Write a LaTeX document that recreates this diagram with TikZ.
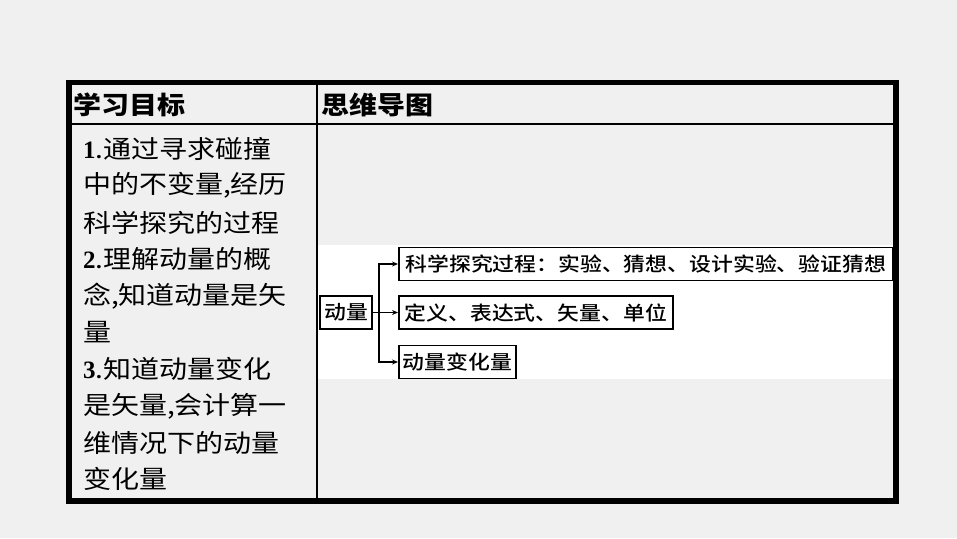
\documentclass[tikz,border=0pt]{standalone}
\usepackage{fontspec}
\usetikzlibrary{arrows.meta}
\setmainfont[FakeStretch=1.12]{Noto Sans CJK SC}
\newfontfamily\cajafont[FakeStretch=1.12]{Noto Sans CJK SC Medium}
\newfontfamily\numfont{Liberation Serif}
\definecolor{fondo}{HTML}{F0F0F0}
\newcommand{\goalnum}[1]{{\numfont\bfseries #1}.}
\tikzset{
  caja/.style={draw, line width=1.6pt, fill=white, font=\cajafont\fontsize{19.5}{22}\selectfont,
    inner xsep=4pt, inner ysep=0pt, minimum height=33pt},
  flecha/.style={line width=1.5pt, -{Stealth[length=6pt, width=5pt]}},
  meta/.style={anchor=west, inner sep=0pt, font=\fontsize{25}{30}\selectfont}
}
\begin{document}
\begin{tikzpicture}[x=1pt, y=-1pt]
  % el fondo y la tabla
  \fill[fondo] (0,0) rectangle (957,538);
  \fill[white] (318,245) rectangle (893,379);
  \draw[line width=2pt] (69,124) -- (896,124);
  \draw[line width=2pt] (317,82.5) -- (317,501);
  \draw[line width=5.5pt] (69,82.5) rectangle (896,501);
  % los títulos
  \node[meta, font=\bfseries\fontsize{25}{30}\selectfont] (titmeta) at (73,105) {学习目标};
  \node[meta, font=\bfseries\fontsize{25}{30}\selectfont] (titmapa) at (321,105) {思维导图};
  % las metas, una línea por nodo
  \foreach \linea [count=\i] in {{\goalnum{1}通过寻求碰撞}, {中的不变量,经历}, {科学探究的过程},
      {\goalnum{2}理解动量的概}, {念,知道动量是矢}, {量}, {\goalnum{3}知道动量变化},
      {是矢量,会计算一}, {维情况下的动量}, {变化量}} {
    \node[meta] (meta\i) at (83,{149+36.7*(\i-1)}) {\linea};
  }
  % el mapa
  \node[caja, minimum width=52pt, inner xsep=0pt] (momento) at (346,312.5) {动量};
  \node[caja, anchor=west, minimum width=494pt] (proceso) at (398,264) {科学探究过程：实验、猜想、设计实验、验证猜想};
  \node[caja, anchor=west, minimum width=274pt] (definicion) at (398,312.5) {定义、表达式、矢量、单位};
  \node[caja, anchor=west] (cambio) at (398,362) {动量变化量};
  \coordinate (rama) at (379,312.5);
  \draw[line width=1.5pt] (momento.east) -- (rama);
  \draw[flecha] (rama) |- (proceso.west);
  \draw[flecha] (rama) -- (definicion.west);
  \draw[flecha] (rama) |- (cambio.west);
\end{tikzpicture}
\end{document}
